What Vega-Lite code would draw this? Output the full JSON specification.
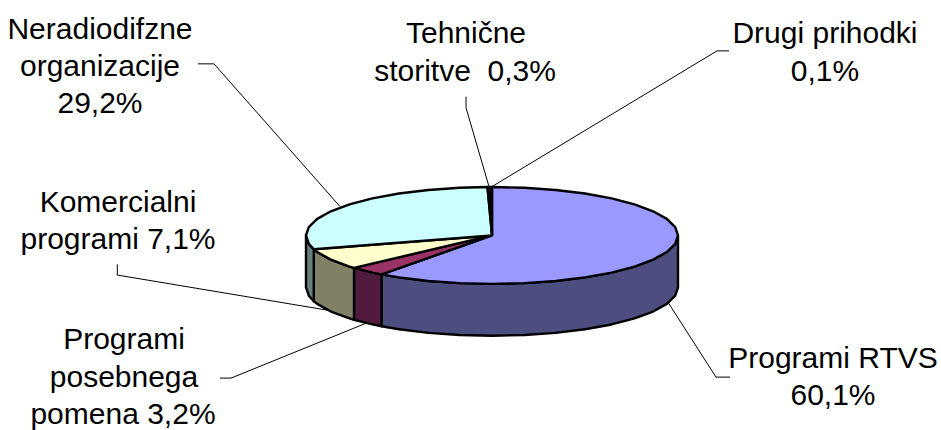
{"$schema":"https://vega.github.io/schema/vega-lite/v6.json","width":941,"height":430,"padding":0,"autosize":{"type":"fit","contains":"padding"},"background":"white","view":{"stroke":null},
"datasets":{
"shapes":[
{"p":"wall RTVS","i":1,"x":678,"y":236},{"p":"wall RTVS","i":2,"x":675.2,"y":244.4},{"p":"wall RTVS","i":3,"x":666.8,"y":252.6},{"p":"wall RTVS","i":4,"x":653.1,"y":260.25},{"p":"wall RTVS","i":5,"x":634.5,"y":267.2},{"p":"wall RTVS","i":6,"x":611.6,"y":273.2},{"p":"wall RTVS","i":7,"x":585,"y":278},{"p":"wall RTVS","i":8,"x":555.6,"y":281.6},{"p":"wall RTVS","i":9,"x":524.3,"y":283.8},{"p":"wall RTVS","i":10,"x":492,"y":284.5},{"p":"wall RTVS","i":11,"x":459.7,"y":283.8},{"p":"wall RTVS","i":12,"x":428.4,"y":281.6},{"p":"wall RTVS","i":13,"x":399,"y":278},{"p":"wall RTVS","i":14,"x":381.6,"y":275},{"p":"wall RTVS","i":15,"x":381.6,"y":327},{"p":"wall RTVS","i":16,"x":399,"y":330},{"p":"wall RTVS","i":17,"x":428.4,"y":333.6},{"p":"wall RTVS","i":18,"x":459.7,"y":335.8},{"p":"wall RTVS","i":19,"x":492,"y":336.5},{"p":"wall RTVS","i":20,"x":524.3,"y":335.8},{"p":"wall RTVS","i":21,"x":555.6,"y":333.6},{"p":"wall RTVS","i":22,"x":585,"y":330},{"p":"wall RTVS","i":23,"x":611.6,"y":325.2},{"p":"wall RTVS","i":24,"x":634.5,"y":319.2},{"p":"wall RTVS","i":25,"x":653.1,"y":312.25},{"p":"wall RTVS","i":26,"x":666.8,"y":304.6},{"p":"wall RTVS","i":27,"x":675.2,"y":296.4},{"p":"wall RTVS","i":28,"x":678,"y":288},{"p":"wall RTVS","i":29,"x":678,"y":236},
{"p":"wall posebni","i":1,"x":381.6,"y":275},{"p":"wall posebni","i":2,"x":372.4,"y":273.2},{"p":"wall posebni","i":3,"x":354,"y":268.5},{"p":"wall posebni","i":4,"x":354,"y":320.5},{"p":"wall posebni","i":5,"x":372.4,"y":325.2},{"p":"wall posebni","i":6,"x":381.6,"y":327},{"p":"wall posebni","i":7,"x":381.6,"y":275},
{"p":"wall komercialni","i":1,"x":354,"y":268.5},{"p":"wall komercialni","i":2,"x":349.5,"y":267.2},{"p":"wall komercialni","i":3,"x":330.9,"y":260.25},{"p":"wall komercialni","i":4,"x":317.2,"y":252.6},{"p":"wall komercialni","i":5,"x":313.8,"y":249.9},{"p":"wall komercialni","i":6,"x":313.8,"y":301.9},{"p":"wall komercialni","i":7,"x":317.2,"y":304.6},{"p":"wall komercialni","i":8,"x":330.9,"y":312.25},{"p":"wall komercialni","i":9,"x":349.5,"y":319.2},{"p":"wall komercialni","i":10,"x":354,"y":320.5},{"p":"wall komercialni","i":11,"x":354,"y":268.5},
{"p":"wall neradio","i":1,"x":313.8,"y":249.9},{"p":"wall neradio","i":2,"x":308.8,"y":244.4},{"p":"wall neradio","i":3,"x":306,"y":236},{"p":"wall neradio","i":4,"x":306,"y":288},{"p":"wall neradio","i":5,"x":308.8,"y":296.4},{"p":"wall neradio","i":6,"x":313.8,"y":301.9},{"p":"wall neradio","i":7,"x":313.8,"y":249.9},
{"p":"top RTVS","i":1,"x":492,"y":236},{"p":"top RTVS","i":2,"x":492,"y":187.5},{"p":"top RTVS","i":3,"x":524.3,"y":188.2},{"p":"top RTVS","i":4,"x":555.6,"y":190.4},{"p":"top RTVS","i":5,"x":585,"y":194},{"p":"top RTVS","i":6,"x":611.6,"y":198.8},{"p":"top RTVS","i":7,"x":634.5,"y":204.8},{"p":"top RTVS","i":8,"x":653.1,"y":211.75},{"p":"top RTVS","i":9,"x":666.8,"y":219.4},{"p":"top RTVS","i":10,"x":675.2,"y":227.6},{"p":"top RTVS","i":11,"x":678,"y":236},{"p":"top RTVS","i":12,"x":675.2,"y":244.4},{"p":"top RTVS","i":13,"x":666.8,"y":252.6},{"p":"top RTVS","i":14,"x":653.1,"y":260.25},{"p":"top RTVS","i":15,"x":634.5,"y":267.2},{"p":"top RTVS","i":16,"x":611.6,"y":273.2},{"p":"top RTVS","i":17,"x":585,"y":278},{"p":"top RTVS","i":18,"x":555.6,"y":281.6},{"p":"top RTVS","i":19,"x":524.3,"y":283.8},{"p":"top RTVS","i":20,"x":492,"y":284.5},{"p":"top RTVS","i":21,"x":459.7,"y":283.8},{"p":"top RTVS","i":22,"x":428.4,"y":281.6},{"p":"top RTVS","i":23,"x":399,"y":278},{"p":"top RTVS","i":24,"x":381.6,"y":275},{"p":"top RTVS","i":25,"x":492,"y":236},
{"p":"top posebni","i":1,"x":492,"y":236},{"p":"top posebni","i":2,"x":381.6,"y":275},{"p":"top posebni","i":3,"x":372.4,"y":273.2},{"p":"top posebni","i":4,"x":354,"y":268.5},{"p":"top posebni","i":5,"x":492,"y":236},
{"p":"top komercialni","i":1,"x":492,"y":236},{"p":"top komercialni","i":2,"x":354,"y":268.5},{"p":"top komercialni","i":3,"x":349.5,"y":267.2},{"p":"top komercialni","i":4,"x":330.9,"y":260.25},{"p":"top komercialni","i":5,"x":317.2,"y":252.6},{"p":"top komercialni","i":6,"x":313.8,"y":249.9},{"p":"top komercialni","i":7,"x":492,"y":236},
{"p":"top neradio","i":1,"x":492,"y":236},{"p":"top neradio","i":2,"x":313.8,"y":249.9},{"p":"top neradio","i":3,"x":308.8,"y":244.4},{"p":"top neradio","i":4,"x":306,"y":236},{"p":"top neradio","i":5,"x":308.8,"y":227.6},{"p":"top neradio","i":6,"x":317.2,"y":219.4},{"p":"top neradio","i":7,"x":330.9,"y":211.75},{"p":"top neradio","i":8,"x":349.5,"y":204.8},{"p":"top neradio","i":9,"x":372.4,"y":198.8},{"p":"top neradio","i":10,"x":399,"y":194},{"p":"top neradio","i":11,"x":428.4,"y":190.4},{"p":"top neradio","i":12,"x":459.7,"y":188.2},{"p":"top neradio","i":13,"x":487.5,"y":187.5},{"p":"top neradio","i":14,"x":492,"y":236},
{"p":"top tehnicne","i":1,"x":492,"y":236},{"p":"top tehnicne","i":2,"x":487.5,"y":187.5},{"p":"top tehnicne","i":3,"x":490.8,"y":187.5},{"p":"top tehnicne","i":4,"x":492,"y":236},
{"p":"top drugi","i":1,"x":492,"y":236},{"p":"top drugi","i":2,"x":490.8,"y":187.5},{"p":"top drugi","i":3,"x":492,"y":187.5},{"p":"top drugi","i":4,"x":492,"y":236}
],
"leaders":[
{"l":"neradio","i":1,"x":198,"y":64},{"l":"neradio","i":2,"x":214,"y":64},{"l":"neradio","i":3,"x":340,"y":207},
{"l":"tehnicne","i":1,"x":466,"y":97},{"l":"tehnicne","i":2,"x":466,"y":108},{"l":"tehnicne","i":3,"x":489,"y":187},
{"l":"drugi","i":1,"x":729,"y":51},{"l":"drugi","i":2,"x":717,"y":51},{"l":"drugi","i":3,"x":492,"y":187},
{"l":"komercialni","i":1,"x":117.3,"y":265},{"l":"komercialni","i":2,"x":117.3,"y":275.7},{"l":"komercialni","i":3,"x":340,"y":313},
{"l":"posebni","i":1,"x":220,"y":379},{"l":"posebni","i":2,"x":231,"y":379},{"l":"posebni","i":3,"x":366,"y":324},
{"l":"RTVS","i":1,"x":668,"y":303},{"l":"RTVS","i":2,"x":716,"y":378},{"l":"RTVS","i":3,"x":730,"y":378}
],
"labels":[
{"t":"Neradiodifzne","x":100,"y":39},{"t":"organizacije","x":100,"y":76},{"t":"29,2%","x":100,"y":113},
{"t":"Tehnične","x":466,"y":43},{"t":"storitve\u00a0 0,3%","x":465,"y":81},
{"t":"Drugi prihodki","x":825,"y":43},{"t":"0,1%","x":825,"y":81},
{"t":"Komercialni","x":118,"y":212},{"t":"programi 7,1%","x":118,"y":250},
{"t":"Programi","x":124,"y":350},{"t":"posebnega","x":124,"y":388},{"t":"pomena 3,2%","x":123,"y":425},
{"t":"Programi RTVS","x":833,"y":369},{"t":"60,1%","x":833,"y":406}
]},
"layer":[
{"data":{"name":"leaders"},"mark":{"type":"line","stroke":"black","strokeWidth":1,"clip":false},
"encoding":{"x":{"field":"x","type":"quantitative","scale":{"domain":[0,941]},"axis":null},"y":{"field":"y","type":"quantitative","scale":{"domain":[430,0]},"axis":null},"detail":{"field":"l"},"order":{"field":"i","type":"quantitative"}}},
{"data":{"name":"shapes"},"mark":{"type":"line","stroke":"black","strokeWidth":2.4,"strokeJoin":"round"},
"encoding":{"x":{"field":"x","type":"quantitative","scale":{"domain":[0,941]},"axis":null},"y":{"field":"y","type":"quantitative","scale":{"domain":[430,0]},"axis":null},"fill":{"field":"p","type":"nominal","legend":null,"scale":{"domain":["wall RTVS","wall posebni","wall komercialni","wall neradio","top RTVS","top posebni","top komercialni","top neradio","top tehnicne","top drugi"],"range":["#4D4D80","#511B3D","#808066","#668080","#9999FF","#993366","#FFFFCC","#CCFFFF","#660066","#FF8080"]}},"order":{"field":"i","type":"quantitative"}}},
{"data":{"name":"labels"},"mark":{"type":"text","font":"Liberation Sans","fontSize":30,"color":"black","align":"center","baseline":"alphabetic"},
"encoding":{"x":{"field":"x","type":"quantitative","scale":{"domain":[0,941]},"axis":null},"y":{"field":"y","type":"quantitative","scale":{"domain":[430,0]},"axis":null},"text":{"field":"t"}}}
]}
